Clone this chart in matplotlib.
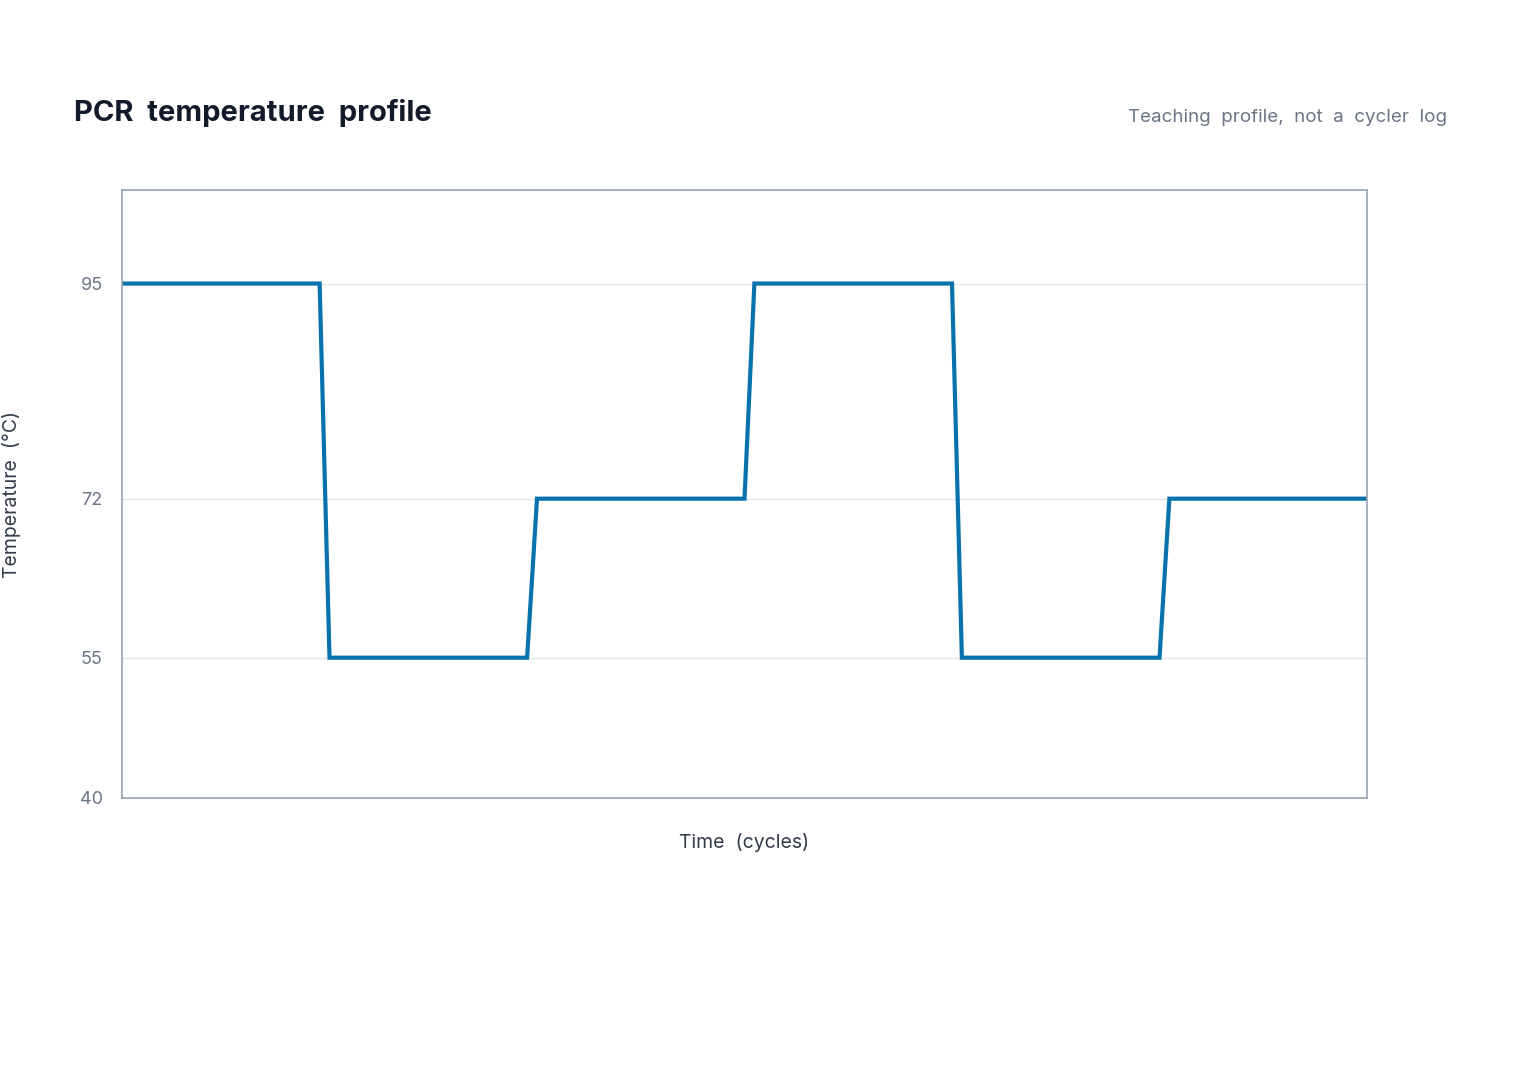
import matplotlib.pyplot as plt

plt.rcParams['font.family'] = ['Inter', 'DejaVu Sans']

# step profile: time points and temperatures
time = [0, 20, 21, 41, 42, 63, 64, 84, 85, 105, 106, 126]
temp = [95, 95, 55, 55, 72, 72, 95, 95, 55, 55, 72, 72]
yticks = [40, 55, 72, 95]

fig = plt.figure(figsize=(15.2, 10.8), dpi=100)
ax = fig.add_axes([122/1520, 1-798/1080, (1367-122)/1520, (798-190)/1080])

for t in [55, 72, 95]:
    ax.axhline(t, color='#e2e6ea', lw=1, zorder=0)
ax.plot(time, temp, color='#0872ad', lw=3, solid_joinstyle='miter')

ax.set_xlim(0, 126)
ax.set_ylim(40, 105)
ax.set_xticks([])
ax.set_yticks(yticks)
ax.tick_params(axis='y', length=0, pad=14, labelsize=13, labelcolor='#6b7585')
for s in ax.spines.values():
    s.set_color('#9aa4b0')
    s.set_linewidth(1.2)

ax.set_xlabel('Time  (cycles)', fontsize=14, color='#333c4a', labelpad=25)
ax.set_ylabel('Temperature  (°C)', fontsize=14, color='#333c4a', labelpad=42)

fig.text(74/1520, 1-113/1080, 'PCR  temperature  profile', fontsize=21, fontweight='bold',
         color='#131a2b', va='center', ha='left')
fig.text(1447/1520, 1-117/1080, 'Teaching  profile,  not  a  cycler  log', fontsize=13.5,
         color='#6b7585', va='center', ha='right')

fig.savefig('out.png', dpi=100, facecolor='white')
